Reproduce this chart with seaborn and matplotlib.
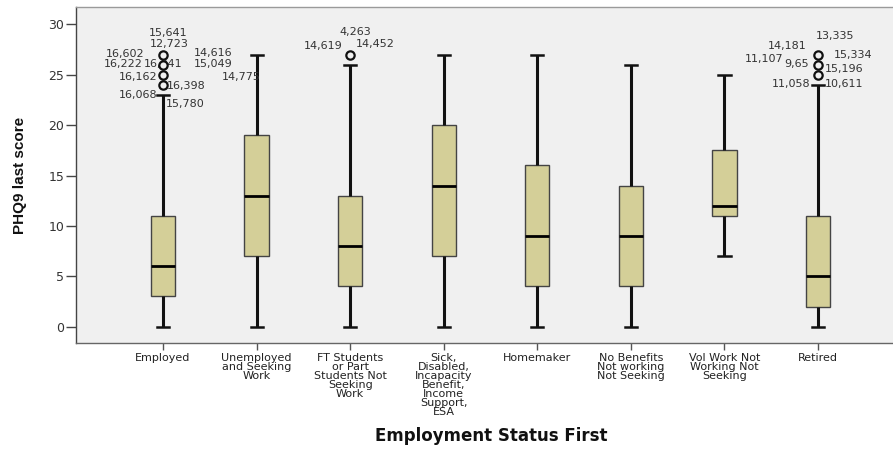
import numpy as np
import pandas as pd
import matplotlib
matplotlib.use("Agg")
import matplotlib.pyplot as plt
import seaborn as sns

# Employment groups and their wrapped axis labels
statuses = [
    "Employed",
    "Unemployed and Seeking Work",
    "FT Students or Part Students Not Seeking Work",
    "Sick, Disabled, Incapacity Benefit, Income Support, ESA",
    "Homemaker",
    "No Benefits Not working Not Seeking",
    "Vol Work Not Working Not Seeking",
    "Retired",
]
tick_labels = [
    "Employed",
    "Unemployed\nand Seeking\nWork",
    "FT Students\nor Part\nStudents Not\nSeeking\nWork",
    "Sick,\nDisabled,\nIncapacity\nBenefit,\nIncome\nSupport,\nESA",
    "Homemaker",
    "No Benefits\nNot working\nNot Seeking",
    "Vol Work Not\nWorking Not\nSeeking",
    "Retired",
]

# PHQ9 last score: five-number summary per group
whisker_low = [0, 0, 0, 0, 0, 0, 7, 0]
q1 = [3, 7, 4, 7, 4, 4, 11, 2]
median = [6, 13, 8, 14, 9, 9, 12, 5]
q3 = [11, 19, 13, 20, 16, 14, 17.5, 11]
whisker_high = [23, 27, 26, 27, 27, 26, 25, 24]

# Outlying scores
outlier_group = [0, 0, 0, 0, 2, 7, 7, 7]
outlier_score = [24, 25, 26, 27, 27, 25, 26, 27]

# Case numbers printed beside the extreme values
case_ids = ["15,641", "12,723", "16,602", "14,616", "16,222", "16,041",
            "15,049", "16,162", "14,775", "16,398", "16,068", "15,780",
            "4,263", "14,619", "14,452",
            "13,335", "14,181", "15,334", "11,107", "9,65", "15,196",
            "11,058", "10,611"]
case_group = [0] * 12 + [2] * 3 + [7] * 8
case_score = [27, 27, 27, 27, 26, 26, 26, 25, 25, 24, 23, 23,
              27, 27, 27,
              27, 27, 27, 26, 26, 26, 24, 24]
# label placement: (dx px, dy px, horizontal alignment)
case_offsets = [(5, 22, "center"), (6, 11, "center"), (-19, 1, "right"),
                (31, 2, "left"), (-20, 1, "right"), (-19, 1, "left"),
                (31, 1, "left"), (-6, -2, "right"), (59, -2, "left"),
                (4, -1, "left"), (-6, 0, "right"), (3, -9, "left"),
                (5, 23, "center"), (-8, 9, "right"), (6, 11, "left"),
                (17, 19, "center"), (-11, 9, "right"), (16, 0, "left"),
                (-35, 6, "right"), (-34, 1, "left"), (7, -4, "left"),
                (-8, 1, "right"), (7, 1, "left")]

BG = "#F0F0F0"
BOX = "#D4CF98"

plt.rcParams["font.family"] = ["DejaVu Sans"]

rows = []
for i, s in enumerate(statuses):
    for v in (whisker_low[i], q1[i], median[i], q3[i], whisker_high[i]):
        rows.append({"status": s, "score": v})
df = pd.DataFrame(rows)

fig = plt.figure(figsize=(8.93, 4.49), dpi=100)
ax = fig.add_axes([76 / 893, 106.3 / 449, 830 / 893, 335.4 / 449])
ax.set_facecolor(BG)

sns.boxplot(
    data=df, x="status", y="score", order=statuses,
    whis=(0, 100), width=0.26, color=BOX, saturation=1,
    linecolor="#444444", linewidth=1.0, showfliers=False,
    whiskerprops=dict(linewidth=2.2, color="#111111"),
    capprops=dict(linewidth=1.8, color="#111111"),
    medianprops=dict(linewidth=2.0, color="#000000"),
    ax=ax,
)

sns.stripplot(
    x=[statuses[g] for g in outlier_group], y=outlier_score, order=statuses,
    jitter=False, color=BG, edgecolor="#111111", linewidth=1.6, size=6,
    zorder=5, ax=ax,
)

for text, g, sc, (dx, dy, ha) in zip(case_ids, case_group, case_score, case_offsets):
    ax.annotate(text, xy=(g, sc), xytext=(dx, dy), textcoords="offset pixels",
                ha=ha, va="center", fontsize=8, color="#333333", zorder=3)

ax.set_xlim(-0.93, 7.94)
ax.set_ylim(-1.59, 31.69)
ax.set_yticks([0, 5, 10, 15, 20, 25, 30])
ax.set_xticks(range(len(statuses)))
ax.set_xticklabels(tick_labels, fontsize=8, color="#222222", linespacing=0.88,
                   va="top")
ax.tick_params(axis="y", labelsize=9, length=7, width=1, color="#444444",
               pad=1.5, labelcolor="#333333")
ax.tick_params(axis="x", length=5, width=1, color="#555555", pad=2.5)

ax.set_xlabel("Employment Status First", fontsize=12, fontweight="bold",
              color="#111111")
ax.xaxis.set_label_coords(0.5, -0.278)
ax.xaxis.label.set_va("center")
ax.set_ylabel("PHQ9 last score", fontsize=11, fontweight="bold",
              family=["Liberation Sans Narrow", "Liberation Sans"],
              color="#111111")
ax.yaxis.set_label_coords(-0.068, 0.5)
ax.yaxis.label.set_va("center")

ax.spines["left"].set_color("#444444")
ax.spines["bottom"].set_color("#666666")
ax.spines["top"].set_color("#9a9a9a")
ax.spines["right"].set_color("#9a9a9a")
for sp in ax.spines.values():
    sp.set_linewidth(1.0)

fig.savefig("out.png", dpi=100, facecolor="white")
